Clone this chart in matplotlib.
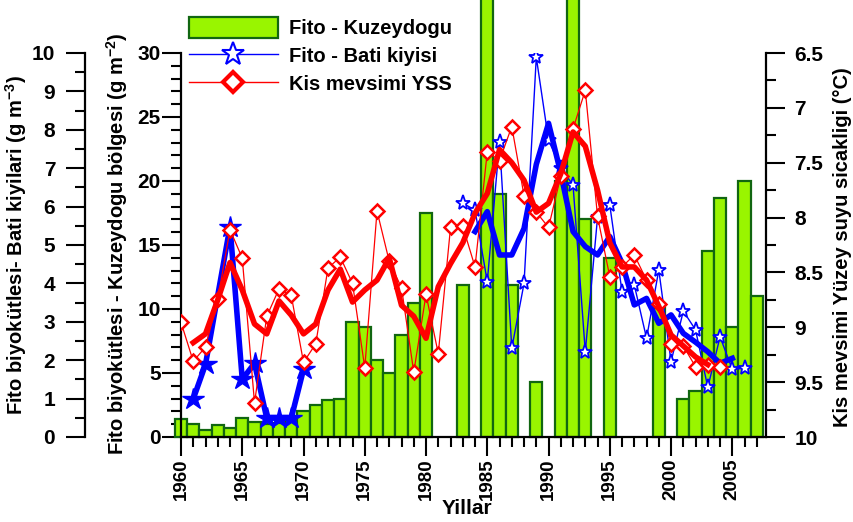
import matplotlib
matplotlib.use('Agg')
import matplotlib.pyplot as plt
from matplotlib.lines import Line2D
from matplotlib.patches import Patch

plt.rcParams['font.family'] = ['Liberation Sans', 'DejaVu Sans']
plt.rcParams['font.weight'] = 'bold'
plt.rcParams['mathtext.fontset'] = 'custom'
plt.rcParams['mathtext.rm'] = 'Liberation Sans:bold'
plt.rcParams['mathtext.bf'] = 'Liberation Sans:bold'
plt.rcParams['mathtext.default'] = 'rm'

# --- data ---
bar_years = [1960, 1961, 1962, 1963, 1964, 1965, 1966, 1967, 1968, 1969,
             1970, 1971, 1972, 1973, 1974, 1975, 1976, 1977, 1978, 1979,
             1980, 1983, 1985, 1986, 1987, 1989, 1991, 1992, 1993, 1995,
             1999, 2001, 2002, 2003, 2004, 2005, 2006, 2007]
bar_vals = [1.43, 1.04, 0.57, 0.94, 0.73, 1.51, 1.2, 1.0, 1.1, 1.3,
            2.06, 2.5, 2.92, 3.0, 9.0, 8.57, 6.0, 5.03, 8.0, 10.47,
            17.5, 11.9, 40.0, 19.0, 11.9, 4.3, 20.0, 40.0, 17.0, 14.0,
            10.05, 3.0, 3.56, 14.5, 18.7, 8.6, 20.0, 11.04]

bati_early_years = [1961, 1962, 1964, 1965, 1966, 1967, 1968, 1969, 1970]
bati_early = [0.99, 1.89, 5.48, 1.5, 1.92, 0.49, 0.49, 0.49, 1.76]

bati_years = list(range(1983, 2007))
bati = [6.09, 5.91, 4.04, 7.69, 2.31, 4.0, 9.89, 7.73, 7.0, 6.56,
        2.22, 5.72, 6.04, 3.78, 3.96, 2.57, 4.35, 1.96, 3.28, 2.79,
        1.29, 2.61, 1.76, 1.79]

bati_ma_years = list(range(1984, 2006))
bati_ma = [5.35, 5.87, 4.74, 4.74, 5.43, 7.1, 8.17, 6.87, 5.35, 4.96,
           4.74, 5.22, 4.53, 3.44, 3.61, 2.96, 3.18, 2.7, 2.47, 2.22,
           1.92, 2.05]

yss_years = list(range(1960, 2005))
yss = [8.955, 9.31, 9.18, 8.745, 8.11, 8.37, 9.69, 8.90, 8.65, 8.71,
       9.32, 9.15, 8.46, 8.36, 8.60, 9.37, 7.94, 8.40, 8.64, 9.41,
       8.70, 9.24, 8.09, 8.08, 8.45, 7.40, 7.48, 7.17, 7.80, 7.95,
       8.09, 7.62, 7.19, 6.84, 7.99, 8.54, 8.45, 8.34, 8.57, 8.79,
       9.15, 9.17, 9.36, 9.34, 9.36]

yss_ma_years = list(range(1961, 2004))
yss_ma = [9.14, 9.06, 8.75, 8.41, 8.66, 8.97, 9.06, 8.76, 8.89, 9.06,
          8.97, 8.66, 8.47, 8.77, 8.66, 8.57, 8.37, 8.80, 8.90, 9.10,
          8.63, 8.42, 8.23, 7.96, 7.78, 7.38, 7.50, 7.66, 7.95, 7.87,
          7.60, 7.22, 7.35, 7.75, 8.23, 8.45, 8.45, 8.57, 8.81, 9.07,
          9.17, 9.27, 9.34]

green = '#99f500'
dkgreen = '#116611'
blue = '#0000ff'
red = '#ff0000'

W, H = 854, 522
fig = plt.figure(figsize=(W / 100, H / 100), dpi=100)
L, R, T, B = 181, 766, 53, 437
ax = fig.add_axes([L / W, 1 - B / H, (R - L) / W, (B - T) / H])

# bars (inner left axis, g m-2)
ax.bar(bar_years, bar_vals, width=1.0, color=green, edgecolor=dkgreen,
       linewidth=1.6, clip_on=False, zorder=2)
ax.set_xlim(1960, 2007.75)
ax.set_ylim(0, 30)
ax.set_xticks(range(1960, 2006, 5))
ax.set_xticks(range(1960, 2008), minor=True)
ax.set_xticklabels([str(y) for y in range(1960, 2006, 5)], rotation=90,
                   fontsize=13.5, fontweight='bold')
ax.set_yticks(range(0, 31, 5))
ax.set_yticks(range(0, 31), minor=True)
ax.tick_params(axis='y', labelsize=15, pad=1)
ax.tick_params(axis='both', which='major', length=13.5, width=1.5)
ax.tick_params(axis='both', which='minor', length=7, width=1.5)
ax.tick_params(axis='x', pad=2)
for s in ['top', 'right']:
    ax.spines[s].set_visible(False)
for s in ['left', 'bottom']:
    ax.spines[s].set_linewidth(1.6)

# outer left axis (g m-3), 96 px to the left of the inner one
ax_b = ax.twinx()
ax_b.spines['left'].set_position(('outward', 96 * 72 / 100))
ax_b.spines['left'].set_linewidth(1.6)
for s in ['top', 'right', 'bottom']:
    ax_b.spines[s].set_visible(False)
ax_b.yaxis.set_ticks_position('left')
ax_b.set_ylim(0, 10)
ax_b.set_yticks(range(0, 11))
ax_b.set_yticks([i + 0.5 for i in range(10)], minor=True)
ax_b.tick_params(axis='y', which='major', length=13.5, width=1.5, labelsize=15, pad=8)
ax_b.tick_params(axis='y', which='minor', length=7, width=1.5)

ax_b.plot(bati_early_years, bati_early, '-', color=blue, lw=4, marker='*',
          ms=16, mfc=blue, mec=blue, zorder=3)
ax_b.plot(bati_years, bati, '-', color=blue, lw=1.0, marker='*', ms=11,
          mfc='white', mec=blue, mew=1.3, zorder=3)
ax_b.plot(bati_ma_years, bati_ma, '-', color=blue, lw=4, zorder=4)

# right axis (temperature, inverted)
ax_r = ax.twinx()
for s in ['top', 'left', 'bottom']:
    ax_r.spines[s].set_visible(False)
ax_r.spines['right'].set_linewidth(1.6)
ax_r.set_ylim(10, 6.5)
ax_r.set_yticks([6.5, 7, 7.5, 8, 8.5, 9, 9.5, 10])
ax_r.set_yticklabels(['6.5', '7', '7.5', '8', '8.5', '9', '9.5', '10'])
ax_r.set_yticks([6.75, 7.25, 7.75, 8.25, 8.75, 9.25, 9.75], minor=True)
ax_r.tick_params(axis='y', which='major', length=13.5, width=1.5, labelsize=15, pad=7)
ax_r.tick_params(axis='y', which='minor', length=7.5, width=1.5)

ax_r.plot(yss_years, yss, '-', color=red, lw=0.9, marker='D', ms=7.5,
          mfc='white', mec=red, mew=1.8, zorder=3)
ax_r.plot(yss_ma_years, yss_ma, '-', color=red, lw=4, zorder=4)

# axis titles
fig.text(16 / W, 1 - 245 / H, 'Fito biyokütlesi- Bati kiyilari (g m$^{-3}$)',
         rotation=90, ha='center', va='center', fontsize=14.5, fontweight='bold')
fig.text(117 / W, 1 - 244 / H, 'Fito biyokütlesi - Kuzeydogu bölgesi (g m$^{-2}$)',
         rotation=90, ha='center', va='center', fontsize=14.5, fontweight='bold')
fig.text(843 / W, 1 - 247 / H, 'Kis mevsimi Yüzey suyu sicakligi (°C)',
         rotation=90, ha='center', va='center', fontsize=14.5, fontweight='bold')
fig.text(467 / W, 1 - 508 / H, 'Yillar', ha='center', va='center',
         fontsize=15, fontweight='bold')

handles = [Patch(facecolor=green, edgecolor=dkgreen, linewidth=1.6),
           Line2D([], [], color=blue, lw=1.0, marker='*', ms=17, mfc='white',
                  mec=blue, mew=1.5),
           Line2D([], [], color=red, lw=1.0, marker='D', ms=10, mfc='white',
                  mec=red, mew=3)]
labels = ['Fito - Kuzeydogu', 'Fito - Bati kiyisi', 'Kis mevsimi YSS']
fig.legend(handles, labels, loc='upper left', bbox_to_anchor=(189 / W, 1 - 17 / H),
           frameon=False, fontsize=14.5, handlelength=4.4, handleheight=1.2,
           handletextpad=0.55, labelspacing=0.35, borderpad=0, borderaxespad=0)

fig.savefig('out.png', dpi=100)
